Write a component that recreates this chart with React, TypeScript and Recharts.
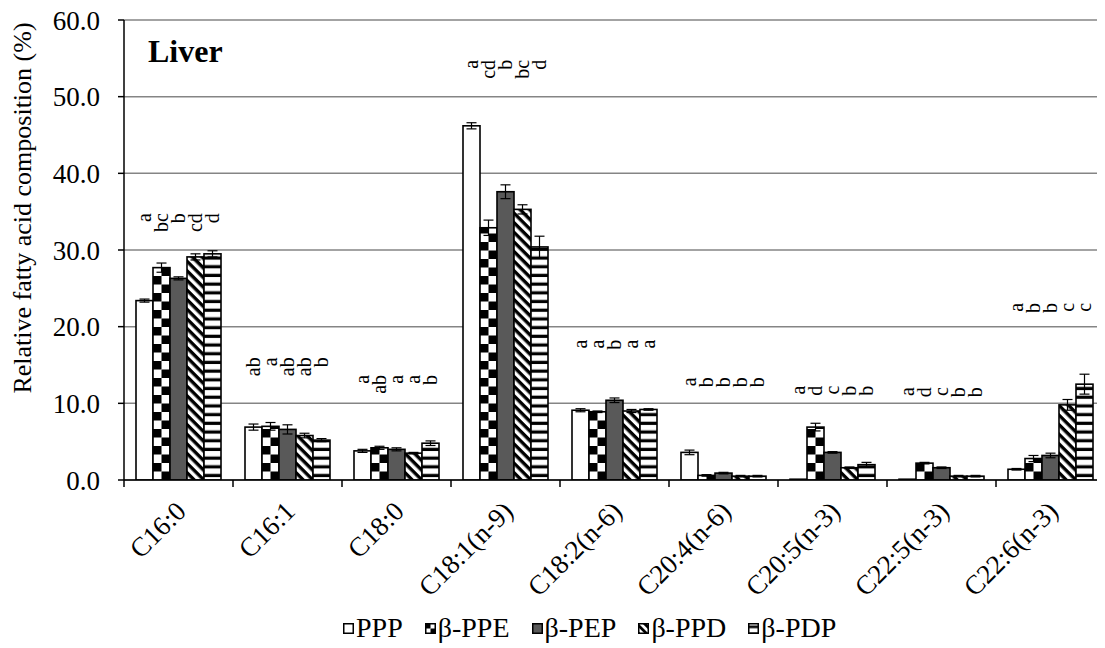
import React from 'react';
import { ComposedChart, Bar, ErrorBar, XAxis, YAxis, CartesianGrid, Scatter } from 'recharts';

// Fatty acids measured in liver tissue
const categories = ['C16:0', 'C16:1', 'C18:0', 'C18:1(n-9)', 'C18:2(n-6)', 'C20:4(n-6)', 'C20:5(n-3)', 'C22:5(n-3)', 'C22:6(n-3)'];
const seriesNames = ['PPP', 'β-PPE', 'β-PEP', 'β-PPD', 'β-PDP'];

// Mean relative composition (%)
const pppMean = [23.4, 6.9, 3.8, 46.2, 9.1, 3.6, 0.1, 0.1, 1.4];
const ppeMean = [27.7, 7.0, 4.2, 32.9, 8.9, 0.6, 6.9, 2.2, 2.8];
const pepMean = [26.3, 6.6, 4.0, 37.6, 10.4, 0.9, 3.6, 1.6, 3.2];
const ppdMean = [29.1, 5.8, 3.5, 35.3, 9.0, 0.5, 1.6, 0.5, 9.8];
const pdpMean = [29.5, 5.2, 4.8, 30.4, 9.2, 0.5, 2.0, 0.5, 12.5];

// Standard errors
const pppErr = [0.2, 0.4, 0.2, 0.4, 0.2, 0.3, 0.0, 0.0, 0.1];
const ppeErr = [0.6, 0.5, 0.2, 1.0, 0.1, 0.1, 0.5, 0.1, 0.4];
const pepErr = [0.2, 0.6, 0.2, 0.9, 0.3, 0.1, 0.1, 0.1, 0.3];
const ppdErr = [0.4, 0.3, 0.1, 0.6, 0.2, 0.1, 0.1, 0.1, 0.7];
const pdpErr = [0.4, 0.2, 0.3, 1.4, 0.1, 0.1, 0.3, 0.1, 1.3];

// Significance letters (different letters differ significantly)
const pppSig = ['a', 'ab', 'a', 'a', 'a', 'a', 'a', 'a', 'a'];
const ppeSig = ['bc', 'a', 'ab', 'cd', 'a', 'b', 'd', 'd', 'b'];
const pepSig = ['b', 'ab', 'a', 'b', 'b', 'b', 'c', 'c', 'b'];
const ppdSig = ['cd', 'ab', 'a', 'bc', 'a', 'b', 'b', 'b', 'c'];
const pdpSig = ['d', 'b', 'b', 'd', 'a', 'b', 'b', 'b', 'c'];
// Level (in % units) at which each group's letters end
const sigLevel = [34.8, 16.0, 13.7, 54.8, 18.3, 13.4, 12.3, 12.1, 23.1];

const yTicks = [0, 10, 20, 30, 40, 50, 60];

const SERIF = "'Liberation Serif', Tinos, 'Times New Roman', Times, 'DejaVu Serif', serif";
const BAR = 17;

type Kind = 'plain' | 'checker' | 'solid' | 'diag' | 'hstripe';

const series = [
  { key: 'ppp', name: seriesNames[0], mean: pppMean, err: pppErr, sig: pppSig, kind: 'plain' as Kind },
  { key: 'ppe', name: seriesNames[1], mean: ppeMean, err: ppeErr, sig: ppeSig, kind: 'checker' as Kind },
  { key: 'pep', name: seriesNames[2], mean: pepMean, err: pepErr, sig: pepSig, kind: 'solid' as Kind },
  { key: 'ppd', name: seriesNames[3], mean: ppdMean, err: ppdErr, sig: ppdSig, kind: 'diag' as Kind },
  { key: 'pdp', name: seriesNames[4], mean: pdpMean, err: pdpErr, sig: pdpSig, kind: 'hstripe' as Kind },
];

const rows = categories.map((category, i) => {
  const row: Record<string, string | number> = { category, sigLevel: sigLevel[i] };
  series.forEach((s) => {
    row[s.key] = s.mean[i];
    row[s.key + 'Err'] = s.err[i];
    row[s.key + 'Sig'] = s.sig[i];
  });
  return row;
});

function patternFor(kind: Kind, id: string, x: number, y: number, scale = 1) {
  if (kind === 'checker') {
    const c = 8.5 * scale;
    return (
      <pattern id={id} patternUnits="userSpaceOnUse" x={x} y={y} width={c * 2} height={c * 2}>
        <rect width={c * 2} height={c * 2} fill="#fff" />
        <rect x={0} y={0} width={c} height={c} fill="#000" />
        <rect x={c} y={c} width={c} height={c} fill="#000" />
      </pattern>
    );
  }
  if (kind === 'diag') {
    const p = 6.8 * scale;
    return (
      <pattern id={id} patternUnits="userSpaceOnUse" x={x} y={y} width={p} height={p}
        patternTransform={`rotate(45 ${x} ${y})`}>
        <rect width={p} height={p} fill="#fff" />
        <rect x={0} y={0} width={p} height={p * 0.5} fill="#000" />
      </pattern>
    );
  }
  if (kind === 'hstripe') {
    const p = 8.7 * scale;
    return (
      <pattern id={id} patternUnits="userSpaceOnUse" x={x} y={y} width={20} height={p}>
        <rect width={20} height={p} fill="#fff" />
        <rect x={0} y={p * 0.3} width={20} height={p * 0.37} fill="#000" />
      </pattern>
    );
  }
  return null;
}

function fillFor(kind: Kind, id: string) {
  if (kind === 'plain') return '#ffffff';
  if (kind === 'solid') return '#595959';
  return `url(#${id})`;
}

function makeBarShape(kind: Kind, key: string) {
  return (props: any) => {
    const { x, y, width, height, index } = props;
    if (!(width > 0) || !(height >= 0)) return <g />;
    const id = `bar-${key}-${index}`;
    const pat = patternFor(kind, id, x, y + height);
    return (
      <g>
        {pat && <defs>{pat}</defs>}
        <rect x={x} y={y} width={width} height={height} fill={fillFor(kind, id)} stroke="#000" strokeWidth={1.6} />
      </g>
    );
  };
}

function SigLetters(props: any) {
  const { cx, cy, payload } = props;
  if (cx == null || cy == null) return <g />;
  return (
    <g>
      {series.map((s, i) => {
        const x = cx + (i - 2) * BAR;
        return (
          <text key={s.key} x={x} y={cy} transform={`rotate(-90 ${x} ${cy})`} textAnchor="end"
            dominantBaseline="central" style={{ fontFamily: SERIF }} fontSize={20} fill="#000">
            {payload[s.key + 'Sig']}
          </text>
        );
      })}
    </g>
  );
}

function CategoryTick(props: any) {
  const { x, y, payload } = props;
  const half = payload && typeof payload.offset === 'number' ? payload.offset : 0;
  const tx = x + 9;
  const ty = y + 33;
  return (
    <g>
      <line x1={x - half} x2={x - half} y1={y} y2={y + 7} stroke="#000" strokeWidth={1.5} />
      <text x={tx} y={ty} transform={`rotate(-45 ${tx} ${ty})`} textAnchor="end"
        style={{ fontFamily: SERIF }} fontSize={27} fill="#000">
        {payload.value}
      </text>
    </g>
  );
}

function LegendSwatch({ kind, id }: { kind: Kind; id: string }) {
  return (
    <svg width={11} height={11} style={{ display: 'block', marginRight: 2 }}>
      <defs>{patternFor(kind, id, 0.5, 0.5, kind === 'checker' ? 0.59 : 0.8)}</defs>
      <rect x={0.75} y={0.75} width={9.5} height={9.5} fill={fillFor(kind, id)} stroke="#000" strokeWidth={1.5} />
    </svg>
  );
}

export default function App() {
  return (
    <div style={{ position: 'relative', width: 1097, height: 640, fontFamily: SERIF }}>
      <ComposedChart width={1097} height={640} data={rows} barGap={0} style={{ fontFamily: SERIF }}
        margin={{ top: 12, right: 0, bottom: 0, left: 0 }}>
        <CartesianGrid vertical={false} stroke="#858585" strokeWidth={1.5} />
        <XAxis dataKey="category" height={168} interval={0} tickSize={0} tickMargin={0} tickLine={false}
          axisLine={{ stroke: '#000', strokeWidth: 1.5 }} tick={(p: any) => <CategoryTick {...p} />} />
        <YAxis domain={[0, 60]} ticks={yTicks} interval={0} allowDataOverflow width={116}
          tickFormatter={(v: number) => v.toFixed(1)} tickSize={6} tickMargin={18}
          axisLine={{ stroke: '#000', strokeWidth: 1.5 }} tickLine={{ stroke: '#000', strokeWidth: 1.5 }}
          tick={{ fill: '#000', fontSize: 27, style: { fontFamily: SERIF } }} />
        {series.map((s) => (
          <Bar key={s.key} dataKey={s.key} name={s.name} barSize={BAR} isAnimationActive={false}
            shape={makeBarShape(s.kind, s.key)}>
            <ErrorBar dataKey={s.key + 'Err'} direction="y" width={5} stroke="#000" strokeWidth={1.2} />
          </Bar>
        ))}
        <Scatter dataKey="sigLevel" legendType="none" isAnimationActive={false} shape={(p: any) => <SigLetters {...p} />} />
      </ComposedChart>

      <svg width={1097} height={640} style={{ position: 'absolute', left: 0, top: 0, pointerEvents: 'none' }}>
        <text x={140} y={54} style={{ fontFamily: SERIF }} fontWeight="bold" fontSize={32} fill="#000">Liver</text>
        <text x={23} y={200} transform="rotate(-90 23 200)" textAnchor="middle" style={{ fontFamily: SERIF }}
          fontSize={26} fill="#000">Relative fatty acid composition (%)</text>
      </svg>

      <div style={{ position: 'absolute', left: 335, top: 606, display: 'flex', alignItems: 'center', gap: 22,
        fontSize: 28, lineHeight: '28px', color: '#000', whiteSpace: 'nowrap', fontFamily: SERIF }}>
        {series.map((s) => (
          <div key={s.key} style={{ display: 'flex', alignItems: 'center' }}>
            <LegendSwatch kind={s.kind} id={`legend-${s.key}`} />
            <span>{s.name}</span>
          </div>
        ))}
      </div>
    </div>
  );
}
